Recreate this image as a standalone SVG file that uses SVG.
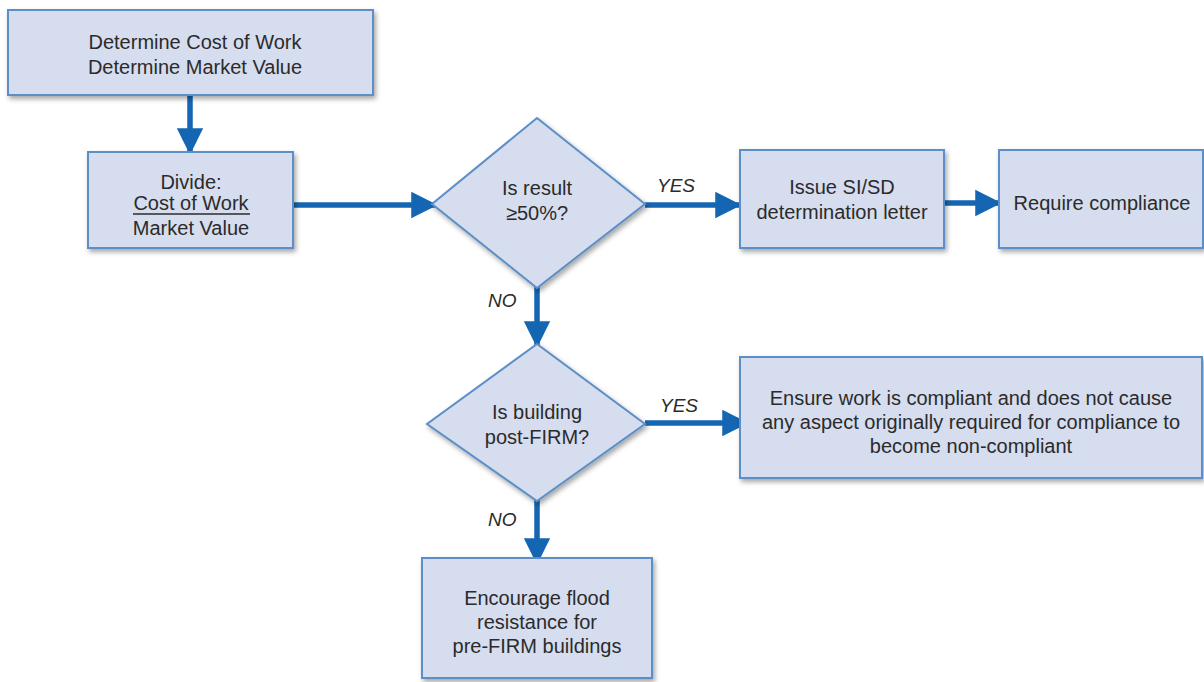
<svg xmlns="http://www.w3.org/2000/svg" width="1204" height="682" viewBox="0 0 1204 682">
<defs>
<filter id="sh" x="-10%" y="-10%" width="125%" height="130%">
<feDropShadow dx="2" dy="3" stdDeviation="2.5" flood-color="#000" flood-opacity="0.35"/>
</filter>
<marker id="ah" viewBox="0 0 10 10" refX="9" refY="5" markerWidth="4.8" markerHeight="5.4" markerUnits="strokeWidth" orient="auto">
<path d="M0,0 L10,5 L0,10 Z" fill="#1466b3"/>
</marker>
<style>
.n{fill:#d5ddef;stroke:#5b8fc8;stroke-width:2;filter:url(#sh)}
.t{font-family:"Liberation Sans",Arial,sans-serif;font-size:20px;fill:#2b2b2b;text-anchor:middle}
.l{font-family:"Liberation Sans",Arial,sans-serif;font-size:19px;fill:#2b2b2b;font-style:italic}
.c{stroke:#1466b3;stroke-width:5.5;fill:none;marker-end:url(#ah)}
</style>
</defs>
<rect width="1204" height="682" fill="#fff"/>
<g id="connectors">
<line class="c" x1="190" y1="95" x2="190" y2="152"/>
<line class="c" x1="293" y1="205" x2="435" y2="205"/>
<line class="c" x1="645" y1="205" x2="739" y2="205"/>
<line class="c" x1="944" y1="203" x2="999" y2="203"/>
<line class="c" x1="537" y1="287" x2="537" y2="345"/>
<line class="c" x1="645" y1="423" x2="746" y2="423"/>
<line class="c" x1="537" y1="500" x2="537" y2="562"/>
<text class="l" x="657" y="192">YES</text>
<text class="l" x="488" y="307">NO</text>
<text class="l" x="660" y="412">YES</text>
<text class="l" x="488" y="526">NO</text>
</g>
<g id="n1">
<rect class="n" x="8" y="10" width="365" height="85"/>
<text class="t" x="195" y="49">Determine Cost of Work</text>
<text class="t" x="195" y="74">Determine Market Value</text>
</g>
<g id="n2">
<rect class="n" x="88" y="152" width="205" height="96"/>
<text class="t" x="191" y="189">Divide:</text>
<text class="t" x="191" y="210">Cost of Work</text>
<line x1="133" y1="214" x2="250" y2="214" stroke="#2b2b2b" stroke-width="1.5"/>
<text class="t" x="191" y="235">Market Value</text>
</g>
<g id="n3">
<polygon class="n" points="537,118 645,204 537,288 432,204"/>
<text class="t" x="537" y="195">Is result</text>
<text class="t" x="537" y="220">≥50%?</text>
</g>
<g id="n4">
<rect class="n" x="740" y="150" width="204" height="98"/>
<text class="t" x="842" y="194">Issue SI/SD</text>
<text class="t" x="842" y="219">determination letter</text>
</g>
<g id="n5">
<rect class="n" x="999" y="150" width="204" height="98"/>
<text class="t" x="1102" y="210">Require compliance</text>
</g>
<g id="n6">
<polygon class="n" points="537,344 645,424 537,501 427,424"/>
<text class="t" x="537" y="419">Is building</text>
<text class="t" x="537" y="444">post-FIRM?</text>
</g>
<g id="n7">
<rect class="n" x="740" y="357" width="462" height="121"/>
<text class="t" x="971" y="405">Ensure work is compliant and does not cause</text>
<text class="t" x="971" y="429">any aspect originally required for compliance to</text>
<text class="t" x="971" y="453">become non-compliant</text>
</g>
<g id="n8">
<rect class="n" x="422" y="558" width="230" height="120"/>
<text class="t" x="537" y="605">Encourage flood</text>
<text class="t" x="537" y="629">resistance for</text>
<text class="t" x="537" y="653">pre-FIRM buildings</text>
</g>
</svg>
